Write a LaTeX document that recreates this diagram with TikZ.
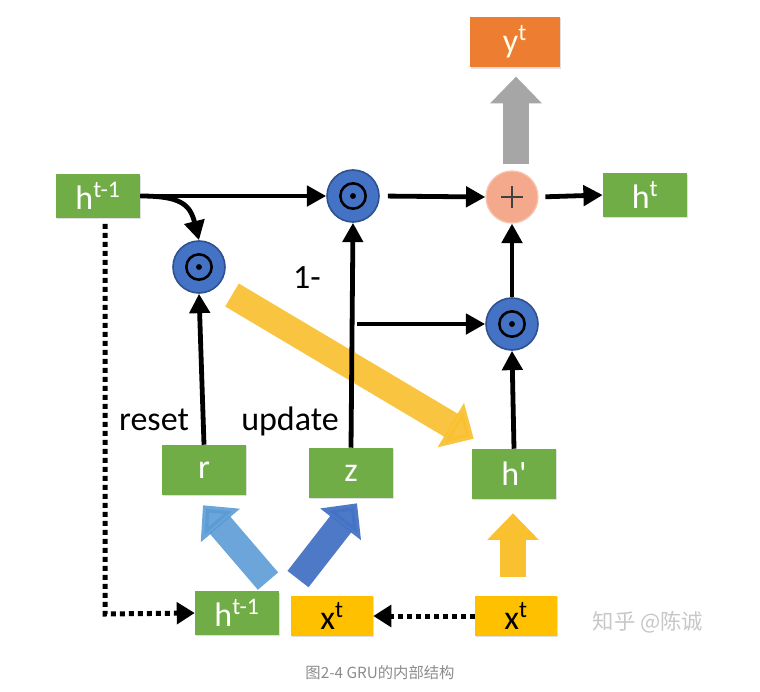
\documentclass[tikz,border=0pt]{standalone}
\usepackage{fontspec}
\setmainfont{Carlito}
\newfontfamily\cjk{Noto Sans CJK SC}
\usetikzlibrary{arrows.meta,shadows,calc}
\definecolor{grn}{HTML}{70AD47}
\definecolor{ylw}{HTML}{FFC000}
\definecolor{org}{HTML}{ED7D31}
\definecolor{blu}{HTML}{4472C4}
\definecolor{bluedge}{HTML}{2F528F}
\definecolor{lblu}{HTML}{5B9BD5}
\definecolor{salmon}{HTML}{F4A88C}
\definecolor{salmonedge}{HTML}{F8C4AE}
\definecolor{garr}{HTML}{A6A6A6}
\definecolor{yarr}{HTML}{F9C030}
\begin{document}
\begin{tikzpicture}[x=0.75pt,y=-0.75pt,
  lbl/.style={font=\fontsize{25.5}{25.5}\selectfont},
  box/.style={lbl,minimum width=63pt,minimum height=32.5pt,inner sep=0pt,text=white,
    drop shadow={opacity=0.25,shadow xshift=1pt,shadow yshift=-1pt}},
  gbox/.style={box,fill=grn},
  ybox/.style={box,fill=ylw,text=black,minimum width=61.5pt,minimum height=30pt},
  obox/.style={box,fill=org,text=white!90!yellow,minimum width=67.5pt,minimum height=38pt},
  opc/.style={circle,fill=blu,draw=bluedge,line width=1.2pt,minimum size=39pt,inner sep=0pt},
  plc/.style={circle,fill=salmon,draw=salmonedge,line width=1pt,minimum size=39pt,inner sep=0pt},
  blk/.style={line width=3.6pt,-{Triangle[length=14.5pt,width=15pt]}},
  dotl/.style={line width=3.75pt,dash pattern=on 3.75pt off 3pt,-{Triangle[length=13.5pt,width=16pt]}},
  fat/.style={line width=20pt,-{Triangle[length=20pt,width=37.5pt]}}
]
\useasboundingbox (0,0) rectangle (760,692);

% nodes
\node[gbox] (hL) at (98,196) {h\textsuperscript{t-1}};
\node[gbox] (ht) at (645,195) {h\textsuperscript{t}};
\node[obox] (yt) at (515,42) {y\textsuperscript{t}};
\node[gbox,minimum height=37.5pt] (r) at (204,470) {r};
\node[gbox,minimum height=37.5pt] (z) at (351,473) {z};
\node[gbox,minimum height=37.5pt] (hp) at (514,474) {h\textquotesingle};
\node[gbox] (hB) at (237,613) {h\textsuperscript{t-1}};
\node[ybox] (xM) at (332,616) {x\textsuperscript{t}};
\node[ybox] (xR) at (516,616) {x\textsuperscript{t}};

\node[opc] (cT) at (353,196) {};
\node[opc] (cL) at (199,267) {};
\node[opc] (cR) at (512,324) {};
\node[plc] (plus) at (512,197) {};

% odot symbols
\foreach \c in {cT,cL,cR}{
  \draw[line width=1.9pt,black] (\c) circle[radius=9.5pt];
  \fill[black] (\c) circle[radius=2.2pt];
}
\draw[line width=0.8pt,black!75] ($(plus)+(-11,0)$) -- ($(plus)+(11,0)$);
\draw[line width=0.8pt,black!75] ($(plus)+(0,-11)$) -- ($(plus)+(0,11)$);

% labels
\node[lbl] (one) at (307,278) {1-};
\node[lbl] (rs) at (154,420) {reset};
\node[lbl] (up) at (290,421) {update};

% fat arrows
\draw[fat,yarr,opacity=0.92] ($(cL)+(33,28)$) -- ($(hp.north west)+(2,-10)$);
\draw[fat,garr] ($(plus.north)+(4,-6)$) -- ($(yt.south)+(1,9)$);
\draw[fat,lblu,opacity=0.9] ($(hB.north)+(31,-10)$) -- ($(r.south)+(-1,10)$);
\draw[fat,blu,opacity=0.95] ($(hB.north)+(61,-12)$) -- ($(z.south)+(6,5)$);
\draw[fat,yarr] ($(xR.north)+(-3,-19)$) -- ($(hp.south)+(-1,14)$);

% black arrows
\draw[blk] (hL.east) -- (cT.west);
\draw[blk] (hL.east) .. controls (180,196) and (190,204) .. (cL.north);
\draw[blk,shorten <=6pt] (cT.east) -- (plus.west);
\draw[blk,shorten <=5pt] (plus.east) -- (ht.west);
\draw[blk] (z.north) -- (cT.south);
\draw[blk] ($(z.north |- cR.west)+(6,0)$) -- (cR.west);
\draw[blk] (cR.north) -- (plus.south);
\draw[blk] (hp.north) -- (cR.south);
\draw[blk] (r.north) -- (cL.south);

% dotted arrows
\coordinate (corner) at (105,614);
\draw[dotl] ($(hL.south -| corner)+(0,6)$) -- (corner) -- (hB.west);
\draw[dotl] (xR.west) -- (xM.east);

% watermark and caption
\node[font=\cjk\fontsize{16}{16}\selectfont,text=black!22] (wm) at (648,622) {知乎 @陈诚};
\node[font=\cjk\fontsize{11.5}{11.5}\selectfont,text=black!45] (cap) at (380,673) {图2-4 GRU的内部结构};
\end{tikzpicture}
\end{document}
